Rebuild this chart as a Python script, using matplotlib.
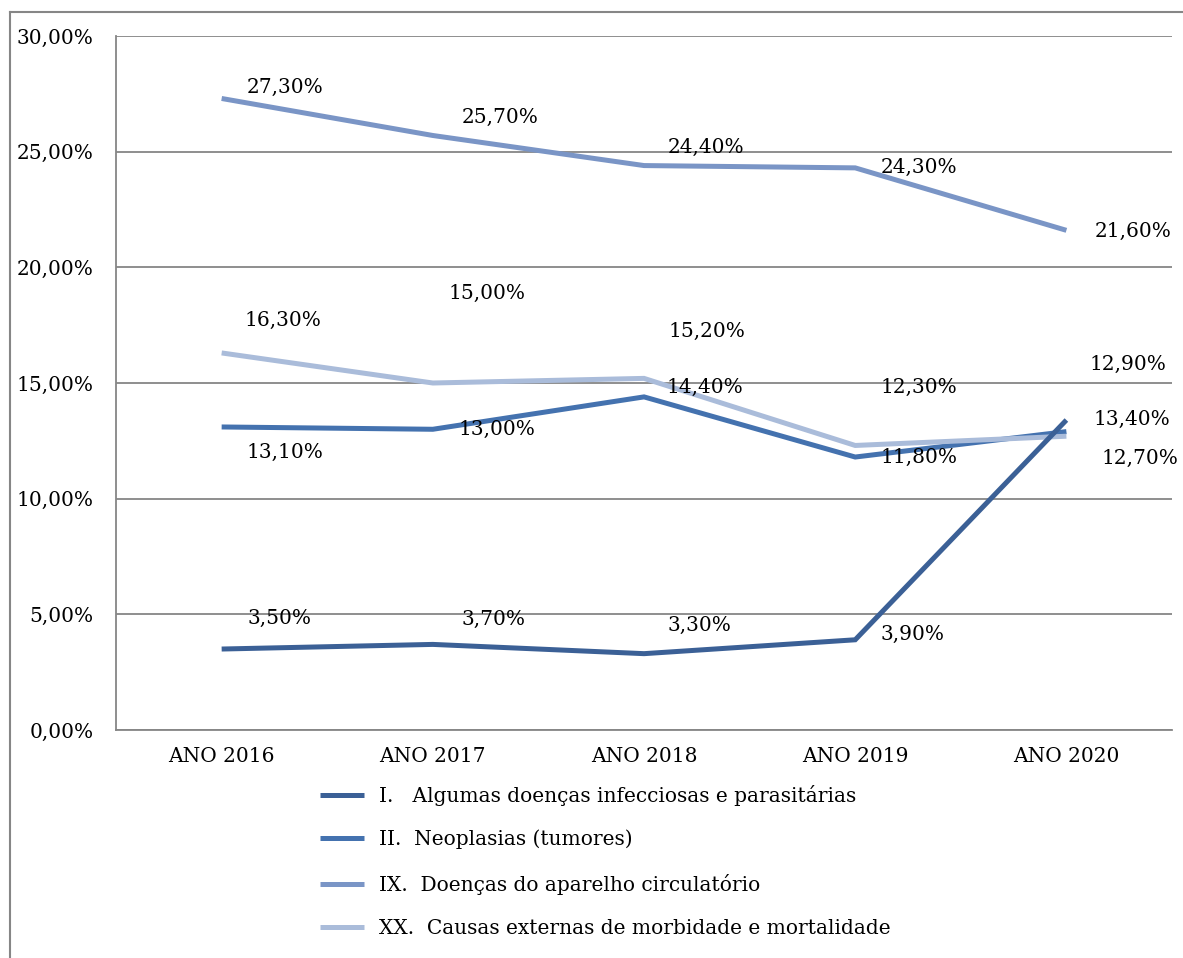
import matplotlib.pyplot as plt
from matplotlib.lines import Line2D
from matplotlib.ticker import FuncFormatter

plt.rcParams['font.family'] = ['DejaVu Serif']

# categorias e séries (%)
anos = ['ANO 2016', 'ANO 2017', 'ANO 2018', 'ANO 2019', 'ANO 2020']
infecciosas = [3.5, 3.7, 3.3, 3.9, 13.4]
neoplasias = [13.1, 13.0, 14.4, 11.8, 12.9]
circulatorio = [27.3, 25.7, 24.4, 24.3, 21.6]
externas = [16.3, 15.0, 15.2, 12.3, 12.7]

nomes = ['I.   Algumas doenças infecciosas e parasitárias',
         'II.  Neoplasias (tumores)',
         'IX.  Doenças do aparelho circulatório',
         'XX.  Causas externas de morbidade e mortalidade']
cores = ['#3B6096', '#4472AF', '#7A95C6', '#AABCDA']

# deslocamento dos rótulos de dados (pixels)
desloc_i = [(58, 31), (61, 25), (55, 28), (57, 5), (65, 1)]
desloc_ii = [(63, -25), (64, 0), (61, 9), (64, 0), (62, 67)]
desloc_ix = [(63, 11), (67, 18), (62, 18), (64, 0), (67, -1)]
desloc_xx = [(61, 33), (54, 90), (63, 47), (64, 58), (74, -22)]

fs = 14.5
fig = plt.figure(figsize=(11.83, 9.58), dpi=100)
ax = fig.add_axes([0.0981, 0.238, 0.8926, 0.7244])

x = list(range(len(anos)))
series = [infecciosas, neoplasias, circulatorio, externas]
deslocs = [desloc_i, desloc_ii, desloc_ix, desloc_xx]
ordens = [6, 3, 4, 5]
for vals, cor, nome, desl, z in zip(series, cores, nomes, deslocs, ordens):
    ax.plot(x, vals, color=cor, lw=3.6, label=nome, zorder=z,
            solid_capstyle='butt', solid_joinstyle='miter')
    for xi, v, (dx, dy) in zip(x, vals, desl):
        ax.annotate(f'{v:.2f}%'.replace('.', ','), (xi, v),
                    xytext=(dx, dy), textcoords='offset pixels',
                    ha='center', va='center', fontsize=fs, zorder=7)

ax.set_xlim(-0.5, 4.5)
ax.set_ylim(0, 30)
ax.set_xticks(x)
ax.set_xticklabels(anos, fontsize=fs)
ax.set_yticks(range(0, 31, 5))
ax.yaxis.set_major_formatter(FuncFormatter(lambda v, p: f'{v:.2f}%'.replace('.', ',')))
ax.tick_params(axis='y', length=0, pad=16, labelsize=fs)
ax.tick_params(axis='x', length=0, pad=12)
ax.grid(axis='y', color='#868686', lw=1.3)
ax.set_axisbelow(True)
for s in ['top', 'right']:
    ax.spines[s].set_visible(False)
for s in ['left', 'bottom']:
    ax.spines[s].set_color('#868686')
    ax.spines[s].set_linewidth(1.3)

fig.legend(loc='upper left', bbox_to_anchor=(0.2705, 0.181), frameon=False,
           fontsize=fs, handlelength=2.2, handletextpad=0.75, labelspacing=1.2,
           borderpad=0, borderaxespad=0)

# moldura externa
fig.add_artist(Line2D([10 / 1183, 10 / 1183], [0, 1 - 12 / 958],
                      transform=fig.transFigure, color='#868686', lw=1.5))
fig.add_artist(Line2D([10 / 1183, 1], [1 - 12 / 958, 1 - 12 / 958],
                      transform=fig.transFigure, color='#868686', lw=1.5))

fig.savefig('out.png', dpi=100)
